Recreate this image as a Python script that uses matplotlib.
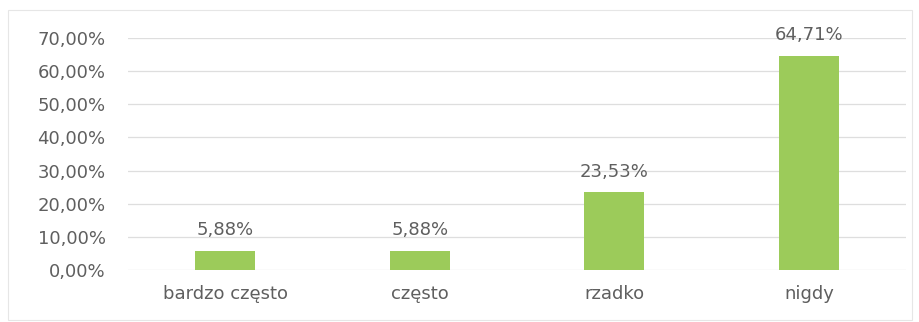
import matplotlib
matplotlib.use("Agg")
import matplotlib.pyplot as plt
from matplotlib.patches import Rectangle

categories = ["bardzo często", "często", "rzadko", "nigdy"]
values = [0.0588, 0.0588, 0.2353, 0.6471]
value_labels = ["5,88%", "5,88%", "23,53%", "64,71%"]
yticks = [0.0, 0.1, 0.2, 0.3, 0.4, 0.5, 0.6, 0.7]
ytick_labels = ["0,00%", "10,00%", "20,00%", "30,00%", "40,00%", "50,00%", "60,00%", "70,00%"]

plt.rcParams['font.family'] = ['DejaVu Sans']
text_color = "#5f5f5f"
fs = 13

fig = plt.figure(figsize=(9.2, 3.22), dpi=100)
fig.patch.set_facecolor("white")
fig.patches.append(Rectangle((8/920, 2/322), 1 - 16/920, 1 - 12/322, transform=fig.transFigure,
                             fill=False, edgecolor="#e6e6e6", linewidth=0.8))
ax = fig.add_axes([0.139, 0.1615, 0.846, 0.7205])
x = list(range(len(categories)))
bars = ax.bar(x, values, width=0.31, color="#9CCB5A", zorder=3)
ax.set_xlim(-0.5, len(categories) - 0.5)
ax.set_ylim(0, 0.7)
ax.set_yticks(yticks)
ax.set_yticklabels(ytick_labels)
ax.set_xticks(x)
ax.set_xticklabels(categories)
ax.yaxis.grid(True, color="#dedede", linewidth=0.9, zorder=0)
ax.set_axisbelow(True)
for s in ax.spines.values():
    s.set_visible(False)
ax.tick_params(axis="both", length=0, labelsize=fs, colors=text_color)
ax.tick_params(axis="x", pad=11)
ax.tick_params(axis="y", pad=16)
for xi, v, lab in zip(x, values, value_labels):
    ax.annotate(lab, (xi, v), xytext=(0, 8), textcoords="offset points",
                ha="center", va="bottom", fontsize=fs, color=text_color)
fig.savefig("out.png", dpi=100)
